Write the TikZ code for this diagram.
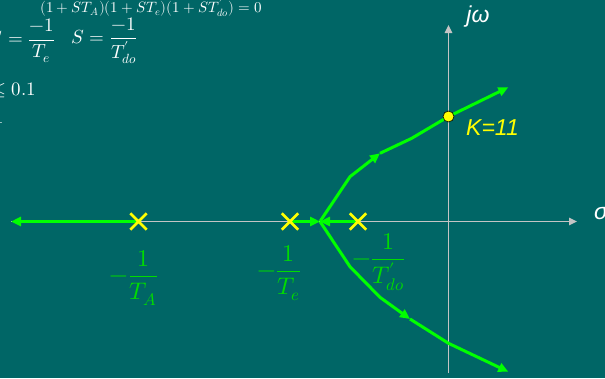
\documentclass[tikz,border=0pt]{standalone}
\usepackage{amsmath}
\usepackage{fontspec}
\usepackage{unicode-math}
\setmathfont{Latin Modern Math}
\newfontfamily\lsans{Liberation Sans}
\usetikzlibrary{arrows.meta,shapes.misc}
\definecolor{bg}{RGB}{0,102,102}
\definecolor{lgreen}{RGB}{0,255,0}
\definecolor{lblgreen}{RGB}{0,220,0}
\definecolor{axisgray}{RGB}{196,196,196}
\definecolor{kyellow}{RGB}{255,255,0}
\begin{document}
\begin{tikzpicture}[x=1pt,y=-1pt,
  axis/.style={draw=axisgray,line width=1.3pt},
  axtip/.style={-{Triangle[length=8pt,width=7.5pt]}},
  locus/.style={draw=lgreen,line width=3pt,line join=round},
  gtip/.style={-{Triangle[length=10pt,width=9pt]}},
  pole/.style={cross out,draw=kyellow,line width=2.8pt,minimum size=13.5pt,inner sep=0pt},
  kpt/.style={circle,fill=kyellow,draw=black,line width=0.6pt,minimum size=11pt,inner sep=0pt},
  lbl/.style={text=lblgreen,font=\fontsize{24}{28}\selectfont,inner sep=0pt},
  wtxt/.style={text=white,font=\fontsize{19}{23}\selectfont,inner sep=0pt},
  stxt/.style={font=\lsans\itshape\fontsize{23}{27}\selectfont,inner sep=0pt}]
\useasboundingbox (0,0) rectangle (605,378);
\clip (0,0) rectangle (605,378);
\fill[bg] (0,0) rectangle (605,378);

% top-left formulas (cut off by the frame)
\node[wtxt,font=\fontsize{15}{18}\selectfont,anchor=base west] (eq1) at (40,12) {$(1+ST_A)(1+ST_e)(1+ST'_{do})=0$};
\node[wtxt,anchor=east] (eq2) at (55,41) {$S=\dfrac{-1}{T_e}$};
\node[wtxt,anchor=west] (eq3) at (71.5,41) {$S=\dfrac{-1}{T'_{do}}$};
\node[wtxt,anchor=base east] (eq4) at (36,95) {$\leq 0.1$};
\node[wtxt,anchor=base east] (eq5) at (4,123) {$1$};

% axes
\coordinate (xl) at (11,221.5);
\coordinate (xr) at (577,221.5);
\coordinate (yb) at (448.5,373);
\coordinate (yt) at (448.5,25);
\draw[axis,axtip] (xl) -- (xr);
\draw[axis,axtip] (yb) -- (yt);
\node[stxt,text=white,anchor=west] (sig) at (594,214) {σ};
\node[stxt,text=white] (jw) at (478,17) {jω};

% poles and breakaway
\coordinate (pAc) at (138.5,221.5);
\coordinate (pEc) at (290,221.5);
\coordinate (pDc) at (358,221.5);
\coordinate (b) at (320,221.5);

% root locus
\draw[locus,gtip] (pAc) -- (xl);
\draw[locus,gtip] (pEc) -- (b);
\draw[locus,gtip] (pDc) -- (b);
\coordinate (u1) at (350,176.7);
\coordinate (u2) at (380,153.3);
\coordinate (u3) at (411.7,138.3);
\coordinate (k) at (448.5,116.5);
\coordinate (u4) at (508.3,87.3);
\draw[locus,gtip] (b) -- (u1) -- (u2);
\draw[locus,gtip] (u2) -- (u3) -- (k) -- (u4);
\coordinate (l1) at (350,266.7);
\coordinate (l2) at (380,297.3);
\coordinate (l3) at (410,319);
\coordinate (l4) at (448.5,343.3);
\coordinate (l5) at (508.3,371.7);
\draw[locus,gtip] (b) -- (l1) -- (l2) -- (l3);
\draw[locus,gtip] (l3) -- (l4) -- (l5);

\node[pole] (pA) at (pAc) {};
\node[pole] (pE) at (pEc) {};
\node[pole] (pD) at (pDc) {};
\node[kpt] (kn) at (k) {};
\node[stxt,text=kyellow,anchor=west] (klbl) at (466,128) {K=11};

% pole labels
\node[lbl] (lA) at (134,278) {$-\dfrac{1}{T_A}$};
\node[lbl] (lE) at (279,273) {$-\dfrac{1}{T_e}$};
\node[lbl] (lD) at (379,262) {$-\dfrac{1}{T'_{do}}$};
\end{tikzpicture}
\end{document}
